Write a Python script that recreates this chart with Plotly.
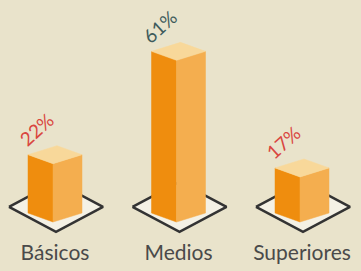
import plotly.graph_objects as go

categories = ["Básicos", "Medios", "Superiores"]
values = [22, 61, 17]
value_labels = ["22%", "61%", "17%"]
label_colors = ["#d9463f", "#3e5b5c", "#d9463f"]

W, H = 361, 271
BOTTOM = 33
PLOT_H = H - BOTTOM
PX_X = 1 / 123.5   # x units per pixel
PX_Y = 1 / 2.65    # y units per pixel
BASE_PX = 222      # pixel row of value 0
x0 = -55 * PX_X
y_top = BASE_PX * PX_Y
y_bot = -(PLOT_H - BASE_PX) * PX_Y

LEFT_C = "#ef8d0e"
RIGHT_C = "#f4ae4f"
TOP_C = "#f8d89a"
BG = "#e9e3cb"

fig = go.Figure()

def poly(xs, ys, fill, line_color=None, lw=0.5):
    fig.add_trace(go.Scatter(
        x=xs + [xs[0]], y=ys + [ys[0]], mode="lines", fill="toself",
        fillcolor=fill, line=dict(color=line_color or fill, width=lw),
        hoverinfo="skip", showlegend=False))

hw_l = 27 * PX_X
hw_r = 27 * PX_X
dfront = -2 * PX_X
dy = 9 * PX_Y
dhw = 47 * PX_X
dcy = 5.7
dhh = 25 * PX_Y

for i, v in enumerate(values):
    cx = i
    dx = cx + 1 * PX_X
    poly([dx - dhw, dx, dx + dhw, dx], [dcy, dcy - dhh, dcy, dcy + dhh],
         "rgba(255,255,255,0.5)", "#333333", 2.5)
    fx = cx + dfront
    lx = cx - hw_l
    rx = cx + hw_r
    bx = lx + rx - fx
    poly([lx, fx, fx, lx], [dy, 0, v, v + dy], LEFT_C)
    poly([fx, rx, rx, fx], [0, dy, v + dy, v], RIGHT_C)
    poly([lx, fx, rx, bx], [v + dy, v, v + dy, v + 2 * dy], TOP_C)

for i, v in enumerate(values):
    fig.add_annotation(x=i - 19 * PX_X, y=v + 34 * PX_Y, text=value_labels[i],
                       showarrow=False, textangle=-42,
                       font=dict(family="Lato", size=19, color=label_colors[i]))

fig.update_layout(
    width=W, height=H,
    margin=dict(l=0, r=0, t=0, b=BOTTOM),
    paper_bgcolor=BG, plot_bgcolor=BG,
    xaxis=dict(range=[x0, x0 + W * PX_X], tickvals=list(range(len(categories))),
               ticktext=categories, showgrid=False, zeroline=False, showline=False,
               ticks="", tickfont=dict(family="Lato", size=21, color="#4a4a4a"),
               automargin=False, fixedrange=True),
    yaxis=dict(range=[y_bot, y_top], showgrid=False, zeroline=False, showline=False,
               showticklabels=False, fixedrange=True),
)

fig.write_html("out.html", config={"displayModeBar": False},
               post_script="document.body.style.margin='0';document.body.style.background='" + BG + "';")
